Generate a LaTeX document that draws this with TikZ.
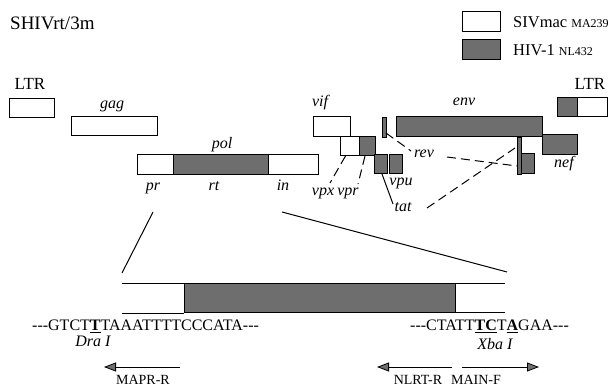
\documentclass[tikz,border=0pt]{standalone}
\usepackage{fontspec}
\setmainfont{Liberation Serif}
\usetikzlibrary{arrows.meta}
\definecolor{hivgrey}{gray}{0.43}
\tikzset{
  wbox/.style={draw=black, fill=white, line width=1pt, inner sep=0pt, outer sep=0pt},
  gbox/.style={draw=black, fill=hivgrey, line width=1pt, inner sep=0pt, outer sep=0pt},
  nbar/.style={draw=black, fill=hivgrey, line width=0.8pt, inner sep=0pt, outer sep=0pt},
  lbl/.style={anchor=base, inner sep=0pt, font=\fontsize{16}{19}\selectfont},
  glbl/.style={lbl, font=\fontsize{16}{19}\selectfont\itshape},
  biglbl/.style={lbl, font=\fontsize{19}{22}\selectfont},
  leglbl/.style={lbl, font=\fontsize{16.5}{19}\selectfont},
  ltrlbl/.style={lbl, font=\fontsize{17}{20}\selectfont},
  prlbl/.style={lbl, font=\fontsize{14}{17}\selectfont},
  dashline/.style={line width=1pt, dash pattern=on 9pt off 5pt},
  solidline/.style={line width=1pt},
  primer/.style={line width=0.8pt, -{Triangle[length=12pt, width=9pt, fill=hivgrey]}},
}
\begin{document}
\begin{tikzpicture}[x=1pt,y=-1pt]
\useasboundingbox (0,0) rectangle (611,387);
% title
\node[biglbl, anchor=base west] (title) at (10,30) {SHIVrt/3m};
% legend
\node[wbox, minimum width=38, minimum height=20] (legw) at (481,22) {};
\node[gbox, minimum width=38, minimum height=20] (legg) at (481,50) {};
\node[leglbl, anchor=base west] (legwt) at (513,28) {SIVmac {\fontsize{12}{14}\selectfont MA239}};
\node[leglbl, anchor=base west] (leggt) at (513,56) {HIV-1 {\fontsize{12}{14}\selectfont NL432}};
% LTRs
\node[ltrlbl] (ltrlt) at (30,90) {LTR};
\node[wbox, minimum width=45, minimum height=19] (ltrL) at (31.5,108.5) {};
\node[ltrlbl] (ltrrt) at (590,90) {LTR};
\node[gbox, minimum width=20, minimum height=19] (ltrRg) at (567,107.5) {};
\node[wbox, minimum width=30, minimum height=19] (ltrRw) at (592,107.5) {};
% gag
\node[glbl] (gagt) at (112,109) {gag};
\node[wbox, minimum width=86, minimum height=19] (gag) at (114,126.5) {};
% pol
\node[glbl] (polt) at (222,149) {pol};
\node[wbox, minimum width=36, minimum height=20] (pr) at (155,165) {};
\node[gbox, minimum width=95, minimum height=20] (rt) at (220.5,165) {};
\node[wbox, minimum width=50, minimum height=20] (in) at (293,165) {};
\node[glbl] (prt) at (153,191) {pr};
\node[glbl] (rtt) at (214,191) {rt};
\node[glbl] (int) at (283,191) {in};
% vif, vpx, vpr
\node[glbl] (vift) at (320,107) {vif};
\node[wbox, minimum width=37, minimum height=20] (vif) at (331.5,127) {};
\node[wbox, minimum width=19, minimum height=19] (vpx) at (349.5,146.5) {};
\node[gbox, minimum width=16, minimum height=19] (vpr) at (367,146.5) {};
\node[glbl] (vpxt) at (323,196) {vpx};
\node[glbl] (vprt) at (348,196) {vpr};
% tat, vpu, rev
\node[gbox, minimum width=13, minimum height=19] (tat1) at (380.5,164.5) {};
\node[gbox, minimum width=13, minimum height=19] (vpu) at (395.5,164.5) {};
\node[nbar, minimum width=4, minimum height=20] (rev1) at (384,127) {};
\node[glbl] (vput) at (401,186) {vpu};
\node[glbl] (tatt) at (403,212) {tat};
\node[glbl] (revt) at (424,158) {rev};
% env, nef
\node[glbl] (envt) at (464,106) {env};
\node[gbox, minimum width=146, minimum height=20] (env) at (469,127) {};
\node[gbox, minimum width=35, minimum height=20] (nef) at (559.5,145) {};
\node[glbl] (neft) at (564,168) {nef};
\node[gbox, minimum width=16, minimum height=20] (tat2) at (526,164) {};
\node[nbar, minimum width=4, minimum height=37] (rev2) at (519.5,155.5) {};
% connectors in the genome map
\coordinate (revA) at (386,133);
\coordinate (revB) at (411,151);
\draw[dashline] (revA) -- (revB);
\coordinate (vpxA) at (330,183);
\draw[dashline] ([xshift=-4pt]vpx.south) -- (vpxA);
\coordinate (vprA) at (358,184);
\draw[dashline] ([xshift=-2pt]vpr.south) -- (vprA);
\coordinate (tatS) at (393,204);
\draw[solidline] ([xshift=1.5pt]tat1.south) -- (tatS);
\coordinate (tatA) at (427,208);
\coordinate (tatB) at (515,148);
\draw[dashline] (tatA) -- (tatB);
\coordinate (revC) at (447,157);
\coordinate (revD) at (517,166);
\draw[dashline] (revC) -- (revD);
% enlargement
\coordinate (zl) at (122,273);
\coordinate (zr) at (507,272);
\coordinate (pl) at (153,212);
\coordinate (pr2) at (282,212);
\draw[solidline] (pl) -- (zl);
\draw[solidline] (pr2) -- (zr);
\node[gbox, minimum width=271, minimum height=29] (big) at (319.5,298.5) {};
\coordinate (tl) at (122,284);
\coordinate (tr) at (505,284);
\coordinate (bl) at (122,313);
\coordinate (br) at (505,313);
\draw[solidline] (tl) -- (big.north west);
\draw[solidline] (big.north east) -- (tr);
\draw[line width=0.6pt] (bl) -- (big.south west);
\draw[solidline] (big.south east) -- (br);
% sequences
\node[lbl, anchor=base west] (seqL) at (32,331) {-{}-{}-GTCT\underline{\textbf{T}}TAAATTTTCCCATA-{}-{}-};
\node[lbl, anchor=base west] (seqR) at (410,331) {-{}-{}-CTATT\underline{\textbf{TC}}T\underline{\textbf{A}}GAA-{}-{}-};
\node[glbl] (dra) at (93,347) {Dra I};
\node[glbl] (xba) at (495,350) {Xba I};
% primers
\coordinate (m1) at (180,367);
\coordinate (m2) at (104,367);
\draw[primer] (m1) -- (m2);
\coordinate (n1) at (452,367);
\coordinate (n2) at (377,367);
\draw[primer] (n1) -- (n2);
\coordinate (f1) at (462,367);
\coordinate (f2) at (539,367);
\draw[primer] (f1) -- (f2);
\node[prlbl] (mapr) at (143,385) {MAPR-R};
\node[prlbl] (nlrt) at (418,385) {NLRT-R};
\node[prlbl] (main) at (476,385) {MAIN-F};
\end{tikzpicture}
\end{document}
